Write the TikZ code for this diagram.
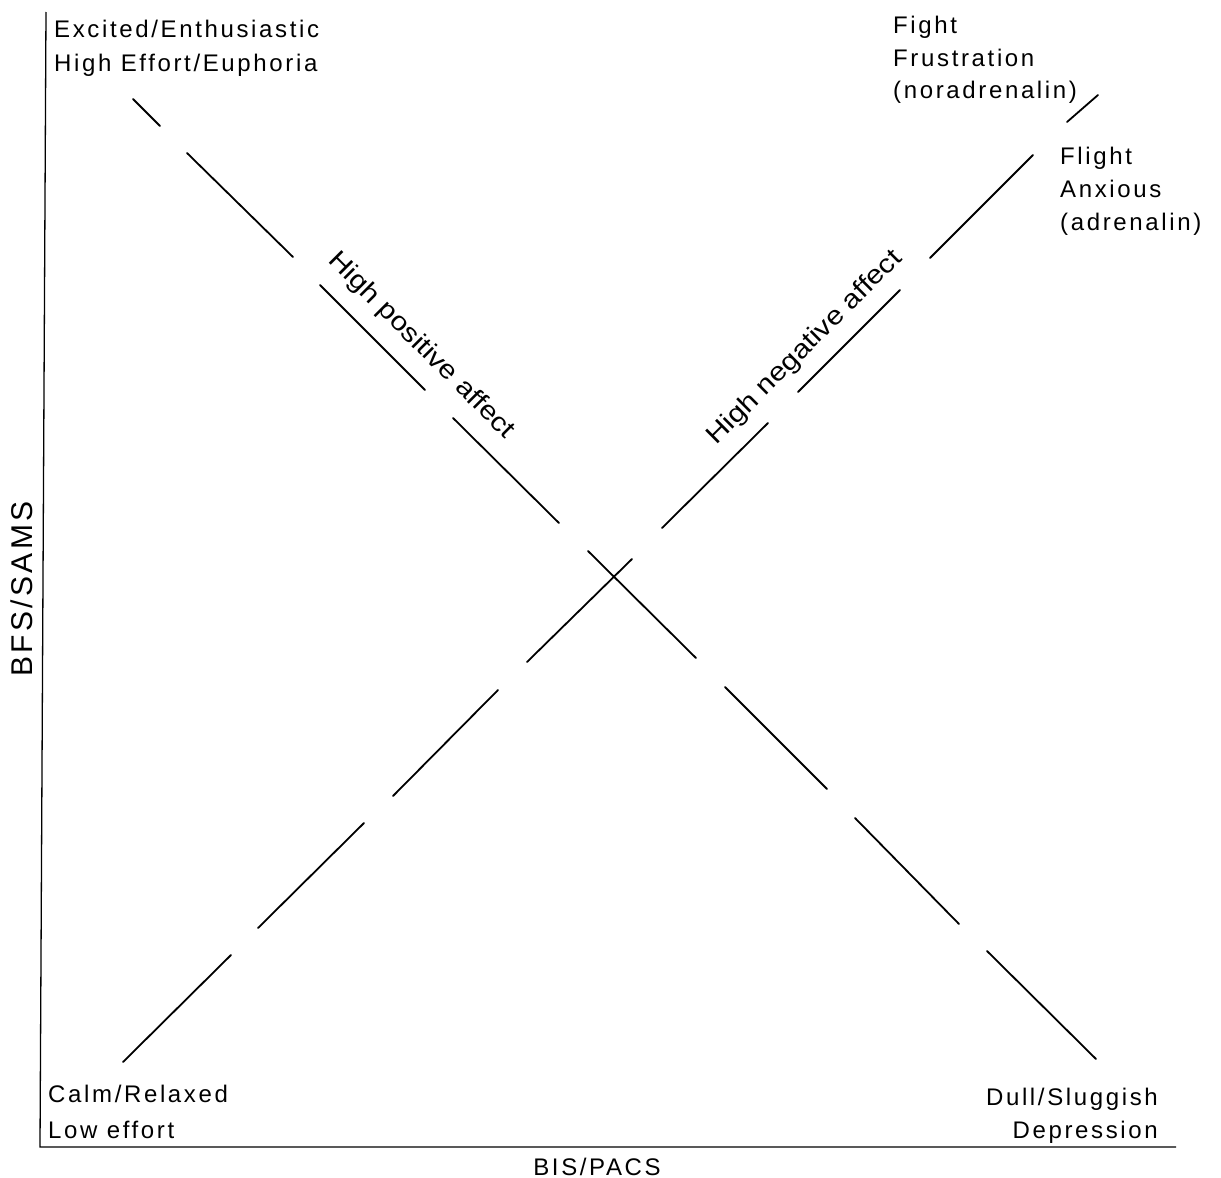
\documentclass[tikz,border=0pt]{standalone}
\usepackage{fontspec}
\setmainfont{Liberation Sans}[LetterSpace=11]
\newfontfamily\rotfont{Liberation Sans}[FakeStretch=1.15]
\begin{document}
\begin{tikzpicture}[x=1pt,y=-1pt,
  lbl/.style={inner sep=0pt, font=\fontsize{24}{30}\selectfont},
  biglbl/.style={inner sep=0pt, font=\fontsize{30}{36}\selectfont},
  rotlbl/.style={inner sep=0pt, font=\rotfont\fontsize{26}{30}\selectfont},
  seg/.style={line width=1.8pt, line cap=round},
  axis/.style={line width=1.3pt}]
\useasboundingbox (0,0) rectangle (1221,1178);
% axes
\coordinate (ytop) at (46,12);
\coordinate (orig) at (40,1147);
\coordinate (xend) at (1176,1147);
\draw[axis] (ytop) -- (orig) -- (xend);
% high positive affect line (dashed by hand)
\foreach \i/\a/\b/\c/\d in {1/133/99/160/126, 2/187/153/293/257, 3/320/285/425/390,
  4/453/418/559/523, 5/588/551/696/658, 6/725/687/827/789, 7/855/818/959/924,
  8/987/951/1096/1059} {
  \coordinate (pa\i s) at (\a,\b);
  \coordinate (pa\i e) at (\c,\d);
  \draw[seg] (pa\i s) -- (pa\i e);
}
% high negative affect line
\foreach \i/\a/\b/\c/\d in {1/123/1062/231/955, 2/258/928/364/823, 3/393/796/498/690,
  4/527/662/632/559, 5/662/528/768/423, 6/798/392/900/290, 7/930/258/1033/155,
  8/1067/122/1098/95} {
  \coordinate (na\i s) at (\a,\b);
  \coordinate (na\i e) at (\c,\d);
  \draw[seg] (na\i s) -- (na\i e);
}
% corner labels
\node[lbl, anchor=base west] (ex1) at (54,37) {Excited/Enthusiastic};
\node[lbl, anchor=base west] (ex2) at (54,71) {High Effort/Euphoria};
\node[lbl, anchor=base west] (fi1) at (893,33) {Fight};
\node[lbl, anchor=base west] (fi2) at (893,66) {Frustration};
\node[lbl, anchor=base west] (fi3) at (893,98) {(noradrenalin)};
\node[lbl, anchor=base west] (fl1) at (1060,164) {Flight};
\node[lbl, anchor=base west] (fl2) at (1060,197) {Anxious};
\node[lbl, anchor=base west] (fl3) at (1060,230) {(adrenalin)};
\node[lbl, anchor=base west] (ca1) at (48,1102) {Calm/Relaxed};
\node[lbl, anchor=base west] (ca2) at (48,1138) {Low effort};
\node[lbl, anchor=base east] (du1) at (1158,1105) {Dull/Sluggish};
\node[lbl, anchor=base east] (du2) at (1158,1138) {Depression};
% axis labels
\node[lbl, anchor=base] (xl) at (597,1175) {BIS/PACS};
\node[biglbl, anchor=base, rotate=90] (yl) at (32,589) {BFS/SAMS};
% line labels
\node[rotlbl, rotate=-45] (pos) at (421,346) {High positive affect};
\node[rotlbl, rotate=44.8] (neg) at (805,348) {High negative affect};
\end{tikzpicture}
\end{document}
